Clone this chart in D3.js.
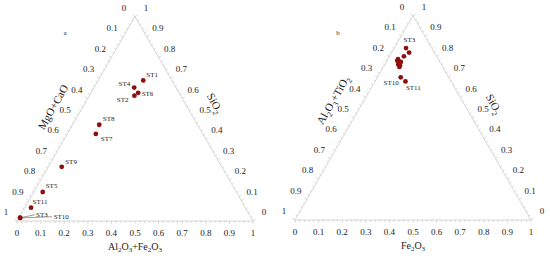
<!DOCTYPE html>
<html>
<head>
<meta charset="utf-8">
<script src="https://cdn.jsdelivr.net/npm/d3@7"></script>
<style>
  body { margin: 0; background: #fff; }
  svg { display: block; }
  text { font-family: "Liberation Serif", "Times New Roman", serif; fill: #222; }
</style>
</head>
<body>
<div id="chart"></div>
<script>
// ---- data ----
// chart a: SiO2 - MgO+CaO - Al2O3+Fe2O3
var samplesA = ["ST1", "ST4", "ST6", "ST2", "ST8", "ST7", "ST9", "ST5", "ST11", "ST3", "ST10"];
var a_SiO2   = [0.688, 0.653, 0.627, 0.613, 0.471, 0.426, 0.265, 0.142, 0.065, 0.016, 0.015];
var a_AlFe   = [0.191, 0.170, 0.200, 0.191, 0.113, 0.121, 0.057, 0.038, 0.027, 0.005, 0.006];

// chart b: SiO2 - Al2O3+TiO2 - Fe2O3
var samplesB = ["ST3", "ST1", "ST4", "ST2", "ST6", "ST5", "ST8", "ST7", "ST9", "ST10", "ST11"];
var b_SiO2   = [0.841, 0.819, 0.801, 0.787, 0.779, 0.773, 0.761, 0.757, 0.749, 0.698, 0.678];
var b_Fe     = [0.050, 0.074, 0.061, 0.043, 0.044, 0.062, 0.057, 0.066, 0.068, 0.099, 0.129];

var tickValues = d3.range(0, 11).map(function(i) { return i / 10; });
var tickLabels = ["0", "0.1", "0.2", "0.3", "0.4", "0.5", "0.6", "0.7", "0.8", "0.9", "1"];

// label placement (layout only)
var labelPosA = {
    ST1: [3, -6, "start"], ST4: [-4, -4, "end"], ST6: [3.5, 1, "start"], ST2: [-6, 4, "end"],
    ST8: [3.5, -6, "start"], ST7: [5, 5, "start"], ST9: [3.5, -5.5, "start"], ST5: [3, -6, "start"],
    ST11: [1.5, -6, "start"], ST3: [16, -3.5, "start"], ST10: [33.5, -1.5, "start"]
};
var leaderA = { ST3: [15, -3], ST10: [32, -1.2] };
var labelPosB = { ST3: [-2.5, -8.5, "start"], ST10: [-2, 5.5, "end"], ST11: [0.5, 6.5, "start"] };

var width = 550, height = 258;
var side = 236, tri = side * Math.sqrt(3) / 2;

var svg = d3.select("#chart").append("svg")
    .attr("width", width)
    .attr("height", height);

svg.append("rect").attr("width", width).attr("height", height).attr("fill", "#fff");

// write "Al_2O_3" style text with subscripts
function richText(sel, str, size) {
    var parts = str.split(/(_\d)/).filter(function(s) { return s.length; });
    var sub = false;
    parts.forEach(function(p) {
        if (p[0] === "_") {
            sel.append("tspan").attr("font-size", size * 0.7).attr("dy", size * 0.28).text(p.slice(1));
            sub = true;
        } else {
            var t = sel.append("tspan").text(p);
            if (sub) { t.attr("dy", -size * 0.28); sub = false; }
        }
    });
}

function ternary(opt) {
    var g = svg.append("g");
    var x = d3.scaleLinear().domain([0, 1]).range([opt.x0, opt.x0 + side]);
    var y = d3.scaleLinear().domain([0, 1]).range([opt.y0, opt.y0 - tri]);

    // bottom value b, top value s
    function px(b, s) { return x(b + s / 2); }
    function py(s) { return y(s); }

    var BL = [px(0, 0), py(0)], BR = [px(1, 0), py(0)], TOP = [px(0, 1), py(1)];

    // edges
    g.append("path")
        .attr("d", "M" + BL + "L" + BR + "L" + TOP + "Z")
        .attr("fill", "none")
        .attr("stroke", "#d2d2d2")
        .attr("stroke-width", 0.9);

    // minor ticks
    var minor = d3.range(0, 51).map(function(i) { return i / 50; });
    var c = Math.sqrt(3) / 2;
    minor.forEach(function(v, i) {
        var len = i % 5 === 0 ? 3 : 2;
        // bottom
        g.append("line")
            .attr("x1", px(v, 0)).attr("y1", py(0))
            .attr("x2", px(v, 0)).attr("y2", py(0) + len)
            .attr("stroke", "#cacaca").attr("stroke-width", 0.7);
        // left (value 0 at top)
        var lx = px(0, 1 - v), ly = py(1 - v);
        g.append("line")
            .attr("x1", lx).attr("y1", ly)
            .attr("x2", lx - c * len).attr("y2", ly - 0.5 * len)
            .attr("stroke", "#cacaca").attr("stroke-width", 0.7);
        // right
        var rx = px(1 - v, v), ry = py(v);
        g.append("line")
            .attr("x1", rx).attr("y1", ry)
            .attr("x2", rx + c * len).attr("y2", ry - 0.5 * len)
            .attr("stroke", "#cacaca").attr("stroke-width", 0.7);
    });

    // tick labels
    tickValues.forEach(function(v, i) {
        g.append("text")
            .attr("x", px(v, 0)).attr("y", py(0) + 12)
            .attr("dy", "0.35em").attr("text-anchor", "middle")
            .attr("font-size", 9).text(tickLabels[i]);
        g.append("text")
            .attr("x", px(0, 1 - v) - 11).attr("y", py(1 - v) - 9)
            .attr("dy", "0.35em").attr("text-anchor", "middle")
            .attr("font-size", 9).text(tickLabels[i]);
        g.append("text")
            .attr("x", px(1 - v, v) + 11).attr("y", py(v) - 9)
            .attr("dy", "0.35em").attr("text-anchor", "middle")
            .attr("font-size", 9).text(tickLabels[i]);
    });

    // axis titles
    var tb = g.append("text")
        .attr("x", px(0.5, 0)).attr("y", py(0) + 25)
        .attr("dy", "0.35em").attr("text-anchor", "middle")
        .attr("font-size", 10);
    richText(tb, opt.bottomTitle, 10);

    var tl = g.append("text")
        .attr("transform", "translate(" + opt.leftTitlePos + ") rotate(-60)")
        .attr("dy", "0.35em").attr("text-anchor", "middle")
        .attr("font-size", 11);
    richText(tl, opt.leftTitle, 11);

    var tr = g.append("text")
        .attr("transform", "translate(" + opt.rightTitlePos + ") rotate(60)")
        .attr("dy", "0.35em").attr("text-anchor", "middle")
        .attr("font-size", 11);
    richText(tr, opt.rightTitle, 11);

    g.append("text")
        .attr("x", opt.letterPos[0]).attr("y", opt.letterPos[1])
        .attr("dy", "0.35em").attr("text-anchor", "middle")
        .attr("font-size", 7).text(opt.letter);

    // points
    var data = opt.names.map(function(n, i) {
        return { name: n, s: opt.top[i], b: opt.bottom[i] };
    });

    // leader lines
    data.forEach(function(d) {
        var l = opt.leaders[d.name];
        if (!l) return;
        g.append("line")
            .attr("x1", px(d.b, d.s)).attr("y1", py(d.s))
            .attr("x2", px(d.b, d.s) + l[0]).attr("y2", py(d.s) + l[1])
            .attr("stroke", "#555").attr("stroke-width", 0.6);
    });

    g.selectAll(".dot")
        .data(data)
        .enter().append("circle")
        .attr("class", "dot")
        .attr("cx", function(d) { return px(d.b, d.s); })
        .attr("cy", function(d) { return py(d.s); })
        .attr("r", 2.4)
        .attr("fill", "#8e0f0f");

    data.forEach(function(d) {
        var lp = opt.labels[d.name];
        if (!lp) return;
        g.append("text")
            .attr("x", px(d.b, d.s) + lp[0]).attr("y", py(d.s) + lp[1])
            .attr("dy", "0.35em").attr("text-anchor", lp[2])
            .attr("font-size", 7).text(d.name);
    });
}

ternary({
    x0: 17, y0: 221,
    names: samplesA, top: a_SiO2, bottom: a_AlFe,
    bottomTitle: "Al_2O_3+Fe_2O_3", leftTitle: "MgO+CaO", rightTitle: "SiO_2",
    leftTitlePos: [53, 107], rightTitlePos: [215, 103],
    letter: "a", letterPos: [65, 33],
    labels: labelPosA, leaders: leaderA
});

ternary({
    x0: 295, y0: 220,
    names: samplesB, top: b_SiO2, bottom: b_Fe,
    bottomTitle: "Fe_2O_3", leftTitle: "Al_2O_3+TiO_2", rightTitle: "SiO_2",
    leftTitlePos: [333, 100], rightTitlePos: [494, 104],
    letter: "b", letterPos: [338, 33],
    labels: labelPosB, leaders: {}
});
</script>
</body>
</html>
